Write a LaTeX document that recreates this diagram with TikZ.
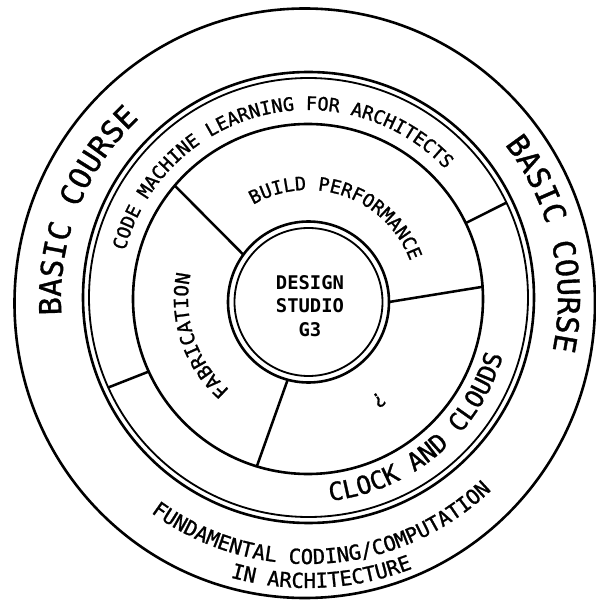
\documentclass[tikz,border=0pt]{standalone}
\usepackage{fontspec}
\setmonofont{DejaVu Sans Mono}
\newfontfamily\ringfont[FakeBold=1.2]{DejaVu Sans Mono}
\usetikzlibrary{decorations.text}

% text set along an arc round the origin: size, start, end, radius, text
\newcommand{\ringtext}[5]{%
  \path[decorate,decoration={text along path,text align=center,
    text={|\ringfont\fontsize{#1}{#1}\selectfont|#5}}]
    (#2:#4) arc[start angle=#2,end angle=#3,radius=#4];}

\begin{document}
\begin{tikzpicture}[x=0.025cm,y=0.025cm,
  ring/.style={line width=1.85pt},
  thin ring/.style={line width=1.3pt},
  divider/.style={line width=1.8pt},
  hub/.style={align=center,font=\ttfamily\bfseries\fontsize{13.4}{16.7}\selectfont}]

\useasboundingbox (-308,-306) rectangle (288,299);

% centres of the rings
\coordinate (c)  at (0,0);
\coordinate (co) at (-3.25,-4.25);
\coordinate (cr) at (0.5,1.5);
\coordinate (cd) at (0.5,-3);

% rings
\draw[ring] (co) ellipse[x radius=290.25,y radius=294.75];
\draw[ring] (cr) circle[radius=225.5];
\draw[thin ring] (cr) circle[radius=219.5];
\draw[ring] (c) circle[radius=175];
\draw[ring] (cd) circle[radius=80.5];
\draw[thin ring] (cd) circle[radius=74];

% dividers
\path (cd) ++(144:80.5) coordinate (fb1);
\path (c) ++(139.6:175) coordinate (fb2);
\path (cd) ++(0:80.5) coordinate (bq1);
\path (c) ++(4:175) coordinate (bq2);
\path (cd) ++(-105:80.5) coordinate (fq1);
\path (c) ++(-107:175) coordinate (fq2);
\path (c) ++(25.7:175) coordinate (ba1);
\path (cr) ++(25.6:219.5) coordinate (ba2);
\path (c) ++(204.5:175) coordinate (bb1);
\path (cr) ++(204.2:219.5) coordinate (bb2);
\draw[divider] (fb1) -- (fb2);
\draw[divider] (bq1) -- (bq2);
\draw[divider] (fq1) -- (fq2);
\draw[divider] (ba1) -- (ba2);
\draw[divider] (bb1) -- (bb2);

% labels on the rings
\ringtext{21.5}{208.4}{108.4}{247}{BASIC COURSE}
\ringtext{21.5}{63.1}{-36.9}{250}{BASIC COURSE}
\ringtext{13.2}{174.25}{34.25}{189}{CODE MACHINE LEARNING FOR ARCHITECTS}
\ringtext{13.2}{130.25}{10.25}{109}{BUILD PERFORMANCE}
\ringtext{13.8}{248.6}{148.6}{120}{FABRICATION}
\ringtext{17.7}{-110}{10}{203}{CLOCK AND CLOUDS}
\ringtext{14.6}{-146.25}{-26.25}{265}{FUNDAMENTAL CODING/COMPUTATION}
\ringtext{14.6}{-127.2}{-47.2}{289}{IN ARCHITECTURE}

\node[rotate=-145,font=\ringfont\fontsize{14}{14}\selectfont] (qmark) at (71,-101) {?};
\node[hub] (studio) at (2,-7) {DESIGN\\STUDIO\\G3};
\end{tikzpicture}
\end{document}
